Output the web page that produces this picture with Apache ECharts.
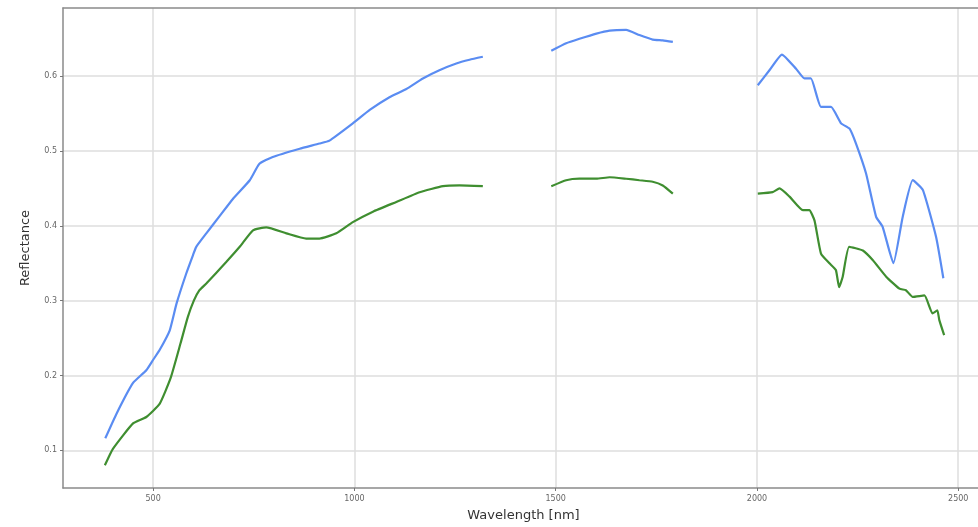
<!DOCTYPE html>
<html>
<head>
<meta charset="utf-8">
<script src="https://cdn.jsdelivr.net/npm/echarts@6/dist/echarts.min.js"></script>
<style>
html,body{margin:0;padding:0;background:#fff;}
#chart{width:978px;height:527px;}
</style>
</head>
<body>
<div id="chart"></div>
<script>
// Tick labels
const xTicks = [500, 1000, 1500, 2000, 2500];
const yTicks = [0.1, 0.2, 0.3, 0.4, 0.5, 0.6];

// Blue spectrum (null = gap in the measured bands)
const blueWavelength = [381, 409, 450, 483, 500, 516, 541, 558, 582, 599, 607, 632, 665, 698, 740, 764, 797, 864, 913, 938, 996, 1038, 1087, 1129, 1170, 1211, 1253, 1286, 1319,
  1400,
  1489, 1526, 1559, 1601, 1634, 1675, 1708, 1741, 1766, 1791,
  1900,
  2002, 2031, 2062, 2097, 2118, 2134, 2159, 2184, 2209, 2230, 2246, 2271, 2296, 2312, 2339, 2362, 2387, 2412, 2445, 2463];
const blueReflectance = [0.116, 0.149, 0.190, 0.207, 0.221, 0.234, 0.260, 0.296, 0.336, 0.361, 0.372, 0.390, 0.413, 0.436, 0.461, 0.483, 0.492, 0.503, 0.510, 0.514, 0.537, 0.555, 0.572, 0.583, 0.597, 0.608, 0.617, 0.622, 0.626,
  null,
  0.634, 0.644, 0.650, 0.657, 0.661, 0.662, 0.655, 0.649, 0.648, 0.646,
  null,
  0.588, 0.608, 0.629, 0.610, 0.597, 0.597, 0.559, 0.559, 0.537, 0.530, 0.510, 0.470, 0.412, 0.399, 0.350, 0.412, 0.461, 0.448, 0.385, 0.330];

// Green spectrum
const greenWavelength = [380, 400, 450, 483, 516, 543, 568, 586, 601, 615, 632, 682, 715, 748, 781, 831, 880, 913, 955, 996, 1046, 1104, 1162, 1220, 1261, 1319,
  1400,
  1489, 1526, 1559, 1601, 1634, 1675, 1708, 1741, 1766, 1791,
  1900,
  2002, 2039, 2056, 2081, 2114, 2130, 2143, 2159, 2180, 2196, 2204, 2213, 2229, 2263, 2288, 2321, 2354, 2370, 2387, 2416, 2436, 2448, 2453, 2465];
const greenReflectance = [0.080, 0.102, 0.136, 0.1445, 0.162, 0.196, 0.243, 0.278, 0.300, 0.314, 0.323, 0.352, 0.372, 0.394, 0.398, 0.390, 0.383, 0.383, 0.390, 0.405, 0.419, 0.432, 0.445, 0.453, 0.454, 0.453,
  null,
  0.453, 0.461, 0.463, 0.463, 0.465, 0.463, 0.461, 0.459, 0.454, 0.443,
  null,
  0.443, 0.445, 0.450, 0.439, 0.421, 0.421, 0.407, 0.363, 0.350, 0.341, 0.318, 0.332, 0.372, 0.367, 0.354, 0.332, 0.316, 0.314, 0.305, 0.307, 0.283, 0.287, 0.274, 0.254];

const pairs = (xs, ys) => xs.map((x, i) => [x, ys[i]]);

const chart = echarts.init(document.getElementById('chart'), null, {renderer: 'canvas'});
const font = 'DejaVu Sans';
const spine = {show: true, lineStyle: {color: '#8a8a8a', width: 1.5}};
chart.setOption({
  animation: false,
  backgroundColor: '#ffffff',
  grid: {
    left: 63, top: 8, width: 921, height: 480,
    outerBoundsMode: 'none', containLabel: false, show: false
  },
  xAxis: [{
    type: 'value', min: 276, max: 2564,
    name: 'Wavelength [nm]', nameLocation: 'middle', nameGap: 21,
    nameTextStyle: {fontFamily: font, fontSize: 13, color: '#333'},
    axisLine: spine,
    axisTick: {show: true, length: 3, lineStyle: {color: '#777'}, customValues: xTicks},
    axisLabel: {fontFamily: font, fontSize: 8, color: '#666', margin: 7, customValues: xTicks,
      formatter: v => String(v)},
    splitLine: {show: true, lineStyle: {color: '#dedede', width: 1.5}}
  }, {
    type: 'value', position: 'top', min: 276, max: 2564,
    axisLine: spine, axisTick: {show: false}, axisLabel: {show: false}, splitLine: {show: false}
  }],
  yAxis: {
    type: 'value', min: 0.0496, max: 0.6912,
    name: 'Reflectance', nameLocation: 'middle', nameGap: 31, nameRotate: 90,
    nameTextStyle: {fontFamily: font, fontSize: 13, color: '#333'},
    axisLine: spine,
    axisTick: {show: true, length: 3, lineStyle: {color: '#777'}, customValues: yTicks},
    axisLabel: {fontFamily: font, fontSize: 8, color: '#666', margin: 6, customValues: yTicks,
      formatter: v => v.toFixed(1)},
    splitLine: {show: true, lineStyle: {color: '#dedede', width: 1.5}}
  },
  series: [
    {type: 'line', data: pairs(blueWavelength, blueReflectance), showSymbol: false, connectNulls: false, smooth: 0.15,
      lineStyle: {color: '#5a8cf2', width: 2.2}, itemStyle: {color: '#5a8cf2'}},
    {type: 'line', data: pairs(greenWavelength, greenReflectance), showSymbol: false, connectNulls: false, smooth: 0.15,
      lineStyle: {color: '#3f8e30', width: 2.2}, itemStyle: {color: '#3f8e30'}}
  ]
});
</script>
</body>
</html>
